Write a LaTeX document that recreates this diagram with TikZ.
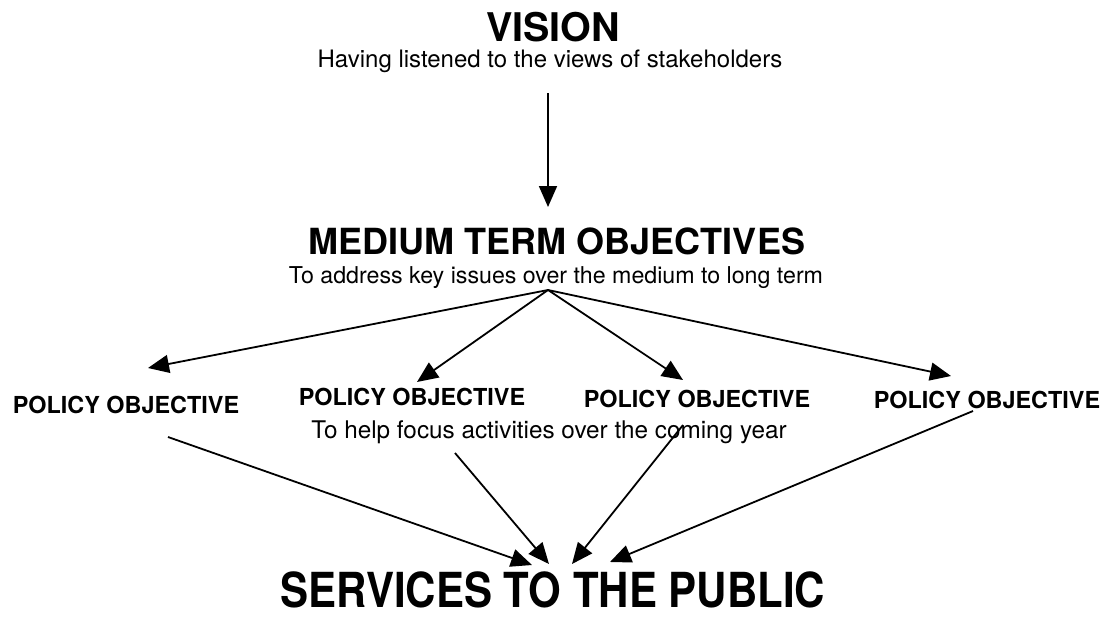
\documentclass[tikz,border=0pt]{standalone}
\usepackage{fontspec}
\setmainfont{TeX Gyre Heros}
\usetikzlibrary{arrows.meta}
\begin{document}
\begin{tikzpicture}[x=1pt,y=-1pt,
  lbl/.style={inner sep=0pt, anchor=base},
  bigtitle/.style={lbl, font=\bfseries\fontsize{39.5}{39.5}\selectfont},
  midtitle/.style={lbl, font=\bfseries\fontsize{36}{36}\selectfont},
  endtitle/.style={lbl, font=\bfseries\fontsize{42}{42}\selectfont},
  policy/.style={lbl, font=\bfseries\fontsize{23.4}{23.4}\selectfont},
  note/.style={lbl, font=\fontsize{24}{24}\selectfont},
  conn/.style={-{Triangle[length=21pt,width=18pt]}, line width=1.8pt}
]
\useasboundingbox (0,0) rectangle (1111,618);

% headings and their notes
\node[bigtitle] (vision) at (553,42) {VISION};
\node[note] (visionnote) at (550,67) {Having listened to the views of stakeholders};
\node[midtitle] (medium) at (557,254) {MEDIUM TERM OBJECTIVES};
\node[note, font=\fontsize{23.2}{23.2}\selectfont] (mediumnote) at (556,283) {To address key issues over the medium to long term};
\node[policy] (p1) at (126,413) {POLICY OBJECTIVE};
\node[policy] (p2) at (412,405) {POLICY OBJECTIVE};
\node[policy] (p3) at (697,407) {POLICY OBJECTIVE};
\node[policy] (p4) at (987,408) {POLICY OBJECTIVE};
\node[note, font=\fontsize{24.3}{24.3}\selectfont] (policynote) at (549,438) {To help focus activities over the coming year};
\node[endtitle] (services) at (553,607) {\scalebox{1}[1.15]{SERVICES TO THE PUBLIC}};

% connector ends
\coordinate (vtop) at (548,93);
\coordinate (vtip) at (548,207);
\coordinate (fan) at (548,290);
\coordinate (t1) at (148,368);
\coordinate (t2) at (417,382);
\coordinate (t3) at (683,380);
\coordinate (t4) at (951,376);
\coordinate (s1) at (168,437);
\coordinate (s2) at (455,453);
\coordinate (s3) at (683,425);
\coordinate (s4) at (973,411);
\coordinate (e1) at (532,565);
\coordinate (e2) at (549,564);
\coordinate (e3) at (572,564);
\coordinate (e4) at (610,562);

% connectors
\draw[conn] (vtop) -- (vtip);
\draw[conn] (fan) -- (t1);
\draw[conn] (fan) -- (t2);
\draw[conn] (fan) -- (t3);
\draw[conn] (fan) -- (t4);
\draw[conn] (s1) -- (e1);
\draw[conn] (s2) -- (e2);
\draw[conn] (s3) -- (e3);
\draw[conn] (s4) -- (e4);
\end{tikzpicture}
\end{document}
